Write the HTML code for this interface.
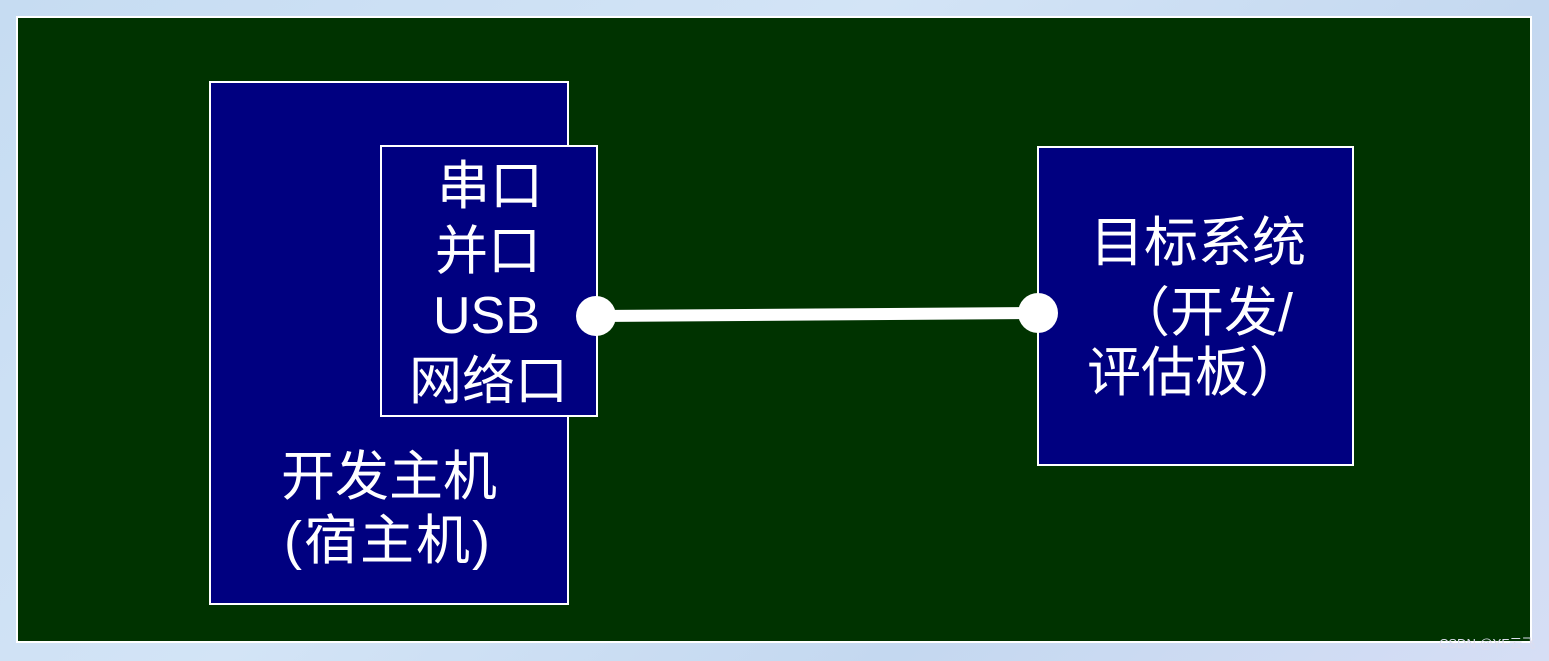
<!DOCTYPE html>
<html><head><meta charset="utf-8"><style>
body{margin:0;width:1549px;height:661px;overflow:hidden;background:linear-gradient(135deg,#c6dcf2,#d3e4f6 40%,#c4d8f0 70%,#d6def5);position:relative;font-family:"Liberation Sans","Noto Sans CJK SC",sans-serif;color:#fff}
.a{position:absolute;box-sizing:border-box}
.t{position:absolute;font-size:53px;line-height:1;white-space:nowrap}
</style></head><body>
<div class="a" style="left:16px;top:16px;width:1516px;height:627px;background:#003300;border:2px solid #fff"></div>
<div class="a" style="left:209px;top:81px;width:360px;height:524px;background:#000080;border:2px solid #fff"></div>
<div class="a" style="left:380px;top:145px;width:218px;height:272px;background:#000080;border:2px solid #fff"></div>
<div class="a" style="left:1037px;top:146px;width:317px;height:320px;background:#000080;border:2px solid #fff"></div>
<svg class="a" style="left:0;top:0" width="1549" height="661">
<line x1="596" y1="316" x2="1038" y2="313" stroke="#fff" stroke-width="12"/>
<circle cx="596" cy="316" r="20" fill="#fff"/>
<circle cx="1038" cy="313" r="20" fill="#fff"/>
</svg>
<div class="t" style="left:437px;top:160px">串口</div>
<div class="t" style="left:435px;top:225px">并口</div>
<div class="t" style="left:433px;top:290px;font-size:52px">USB</div>
<div class="t" style="left:409px;top:355px">网络口</div>
<div class="t" style="left:281px;top:450px;font-size:54px">开发主机</div>
<div class="t" style="left:284px;top:514px;font-size:54px;letter-spacing:2px">(宿主机)</div>
<div class="t" style="left:1090px;top:216px;font-size:54px">目标系统</div>
<div class="t" style="left:1116px;top:286px;font-size:54px">（开发/</div>
<div class="t" style="left:1087px;top:346px;font-size:54px">评估板）</div>
<div class="t" style="left:1439px;top:637px;font-size:13px;color:#dde">CSDN @YF云飞</div>
</body></html>
